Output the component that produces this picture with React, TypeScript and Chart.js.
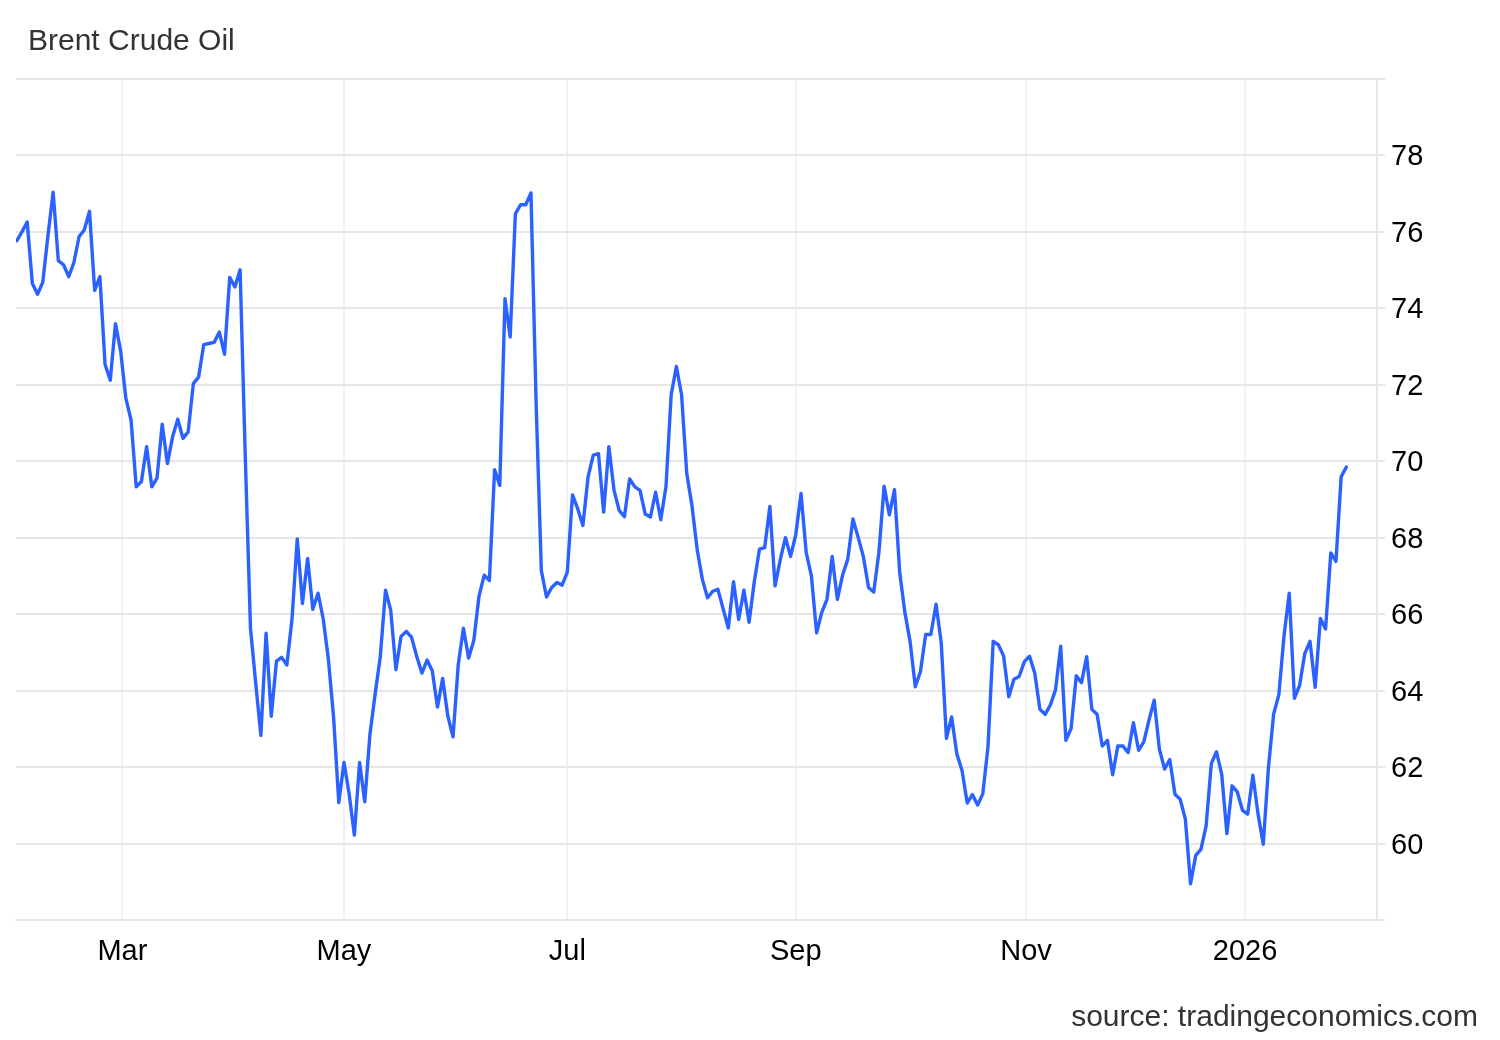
import React, { useEffect, useRef } from "react";
import { Chart, registerables } from "chart.js";

Chart.register(...registerables);

const TITLE = "Brent Crude Oil";
const SOURCE = "source: tradingeconomics.com";

// Daily closes (USD/bbl), one array per month of trading days
const jan2025 = [75.77];
const feb2025 = [76.0, 76.26, 74.65, 74.37, 74.68, 75.9, 77.04, 75.25, 75.14, 74.83, 75.2, 75.88, 76.05, 76.54, 74.47, 74.83, 72.53, 72.12, 73.6, 72.88];
const mar2025 = [71.65, 71.08, 69.33, 69.47, 70.38, 69.33, 69.56, 70.97, 69.94, 70.64, 71.1, 70.6, 70.77, 72.03, 72.2, 73.05, 73.08, 73.11, 73.38, 72.8, 74.81];
const apr2025 = [74.56, 75.01, 70.1, 65.63, 64.2, 62.83, 65.5, 63.33, 64.77, 64.87, 64.67, 65.88, 67.97, 66.28, 67.46, 66.13, 66.55, 65.88, 64.82, 63.3, 61.07];
const may2025 = [62.12, 61.3, 60.22, 62.12, 61.09, 62.86, 63.91, 64.9, 66.63, 66.1, 64.55, 65.42, 65.55, 65.4, 64.9, 64.46, 64.8, 64.52, 63.57, 64.32, 63.33, 62.79];
const jun2025 = [64.68, 65.63, 64.85, 65.32, 66.47, 67.02, 66.88, 69.78, 69.37, 74.25, 73.25, 76.47, 76.71, 76.71, 77.02, 71.5, 67.14, 66.45, 66.7, 66.83, 66.76];
const jul2025 = [67.1, 69.12, 68.76, 68.32, 69.59, 70.16, 70.2, 68.67, 70.38, 69.24, 68.71, 68.55, 69.54, 69.33, 69.24, 68.62, 68.54, 69.19, 68.47, 69.34, 71.74, 72.48, 71.74];
const aug2025 = [69.68, 68.84, 67.7, 66.91, 66.43, 66.6, 66.65, 66.14, 65.64, 66.85, 65.86, 66.63, 65.79, 66.85, 67.7, 67.74, 68.82, 66.74, 67.42, 68.0, 67.51];
const sep2025 = [68.09, 69.16, 67.61, 67.0, 65.51, 66.05, 66.39, 67.51, 66.39, 67.02, 67.44, 68.49, 68.01, 67.51, 66.7, 66.58, 67.62, 69.35, 68.6, 69.26, 67.09, 66.04];
const oct2025 = [65.29, 64.1, 64.5, 65.47, 65.47, 66.26, 65.25, 62.75, 63.31, 62.35, 61.91, 61.06, 61.28, 61.01, 61.3, 62.53, 65.29, 65.2, 64.91, 63.84, 64.3, 64.37, 64.76];
const nov2025 = [64.9, 64.46, 63.51, 63.38, 63.62, 64.02, 65.16, 62.7, 63.01, 64.39, 64.21, 64.89, 63.51, 63.38, 62.55, 62.7, 61.8, 62.55, 62.55, 62.38];
const dec2025 = [63.16, 62.44, 62.66, 63.23, 63.75, 62.47, 61.95, 62.2, 61.29, 61.16, 60.64, 58.95, 59.69, 59.85, 60.46, 62.09, 62.4, 61.81, 60.26, 61.51, 61.35, 60.87];
const jan2026 = [60.77, 61.79, 60.77, 59.98, 61.99, 63.39, 63.89, 65.44, 66.55, 63.8, 64.14, 64.97, 65.29, 64.09, 65.89, 65.61, 67.6, 67.38, 69.6, 69.85];

const firstTradingDay = "2025-01-31";
const marketHolidays = ["2025-04-18", "2025-12-25", "2026-01-01"];

const tickDates = ["2025-03-01", "2025-05-01", "2025-07-01", "2025-09-01", "2025-11-01", "2026-01-01"];
const tickLabels = ["Mar", "May", "Jul", "Sep", "Nov", "2026"];

const yTicks = [60, 62, 64, 66, 68, 70, 72, 74, 76, 78];

const values: number[] = [
  ...jan2025, ...feb2025, ...mar2025, ...apr2025, ...may2025, ...jun2025,
  ...jul2025, ...aug2025, ...sep2025, ...oct2025, ...nov2025, ...dec2025, ...jan2026,
];

const DAY = 86400000;
function toTime(s: string) {
  return Date.parse(s + "T00:00:00Z");
}

// trading calendar: weekdays minus market holidays
function buildDates(count: number): number[] {
  const out: number[] = [];
  const hol = new Set(marketHolidays.map(toTime));
  let t = toTime(firstTradingDay);
  while (out.length < count) {
    const wd = new Date(t).getUTCDay();
    if (wd !== 0 && wd !== 6 && !hol.has(t)) out.push(t);
    t += DAY;
  }
  return out;
}

const dates = buildDates(values.length);

// ordinal position of a calendar date (interpolated between trading days)
function ordinalPos(dateStr: string): number {
  const t = toTime(dateStr);
  for (let i = 0; i < dates.length; i++) {
    if (dates[i] === t) return i;
    if (dates[i] > t) {
      if (i === 0) return 0;
      return i - 1 + (t - dates[i - 1]) / (dates[i] - dates[i - 1]);
    }
  }
  return dates.length - 1;
}

const tickPositions = tickDates.map(ordinalPos);

const FONT = '"Liberation Sans", Arial, Helvetica, sans-serif';

const textPlugin = {
  id: "pageTexts",
  afterDraw(chart: any) {
    const ctx = chart.ctx as CanvasRenderingContext2D;
    ctx.save();
    ctx.font = `30px ${FONT}`;
    ctx.fillStyle = "#333333";
    ctx.textBaseline = "alphabetic";
    ctx.textAlign = "left";
    ctx.fillText(TITLE, 28, 50);
    ctx.textAlign = "right";
    ctx.fillText(SOURCE, 1478, 1026);
    ctx.restore();
  },
};

export default function App() {
  const ref = useRef<HTMLCanvasElement>(null);

  useEffect(() => {
    if (!ref.current) return;
    const chart = new Chart(ref.current, {
      type: "line",
      data: {
        datasets: [
          {
            label: TITLE,
            data: values.map((v, i) => ({ x: i, y: v })),
            borderColor: "#2b62ff",
            borderWidth: 3.4,
            pointRadius: 0,
            tension: 0,
            borderJoinStyle: "round",
            borderCapStyle: "round",
            fill: false,
          },
        ],
      },
      options: {
        responsive: false,
        animation: false,
        devicePixelRatio: 1,
        layout: { padding: { left: 16, top: 79, right: 0, bottom: 0 } },
        plugins: {
          legend: { display: false },
          tooltip: { enabled: false },
          title: { display: false },
        },
        scales: {
          x: {
            type: "linear",
            min: -0.15,
            max: 261.9,
            afterBuildTicks: (scale: any) => {
              scale.ticks = tickPositions.map((p) => ({ value: p }));
            },
            afterFit: (scale: any) => {
              scale.height = 120;
            },
            ticks: {
              autoSkip: false,
              maxRotation: 0,
              padding: 15,
              color: "#000000",
              font: { family: FONT, size: 29 },
              callback: (value: any) => {
                const k = tickPositions.findIndex((p) => Math.abs(p - Number(value)) < 1e-6);
                return k >= 0 ? tickLabels[k] : "";
              },
            },
            grid: {
              color: "#eef1f5",
              lineWidth: 2,
              drawTicks: false,
            },
            border: { display: true, color: "#e6e6e6", width: 2 },
          },
          y: {
            type: "linear",
            position: "right",
            min: 58,
            max: 80,
            afterFit: (scale: any) => {
              scale.width = 123;
            },
            ticks: {
              stepSize: 2,
              padding: 6,
              labelOffset: 2,
              color: "#000000",
              font: { family: FONT, size: 29 },
              callback: (value: any) => (yTicks.includes(Number(value)) ? String(value) : ""),
            },
            grid: {
              color: "#e6e6e6",
              lineWidth: 2,
              drawTicks: true,
              tickLength: 8,
              tickColor: "#e6e6e6",
            },
            border: { display: true, color: "#e6e6e6", width: 2 },
          },
        },
      },
      plugins: [textPlugin],
    } as any);
    return () => chart.destroy();
  }, []);

  return (
    <div style={{ position: "absolute", left: 0, top: 0, width: 1500, height: 1040, background: "#ffffff" }}>
      <canvas ref={ref} width={1500} height={1040} style={{ display: "block" }} />
    </div>
  );
}
